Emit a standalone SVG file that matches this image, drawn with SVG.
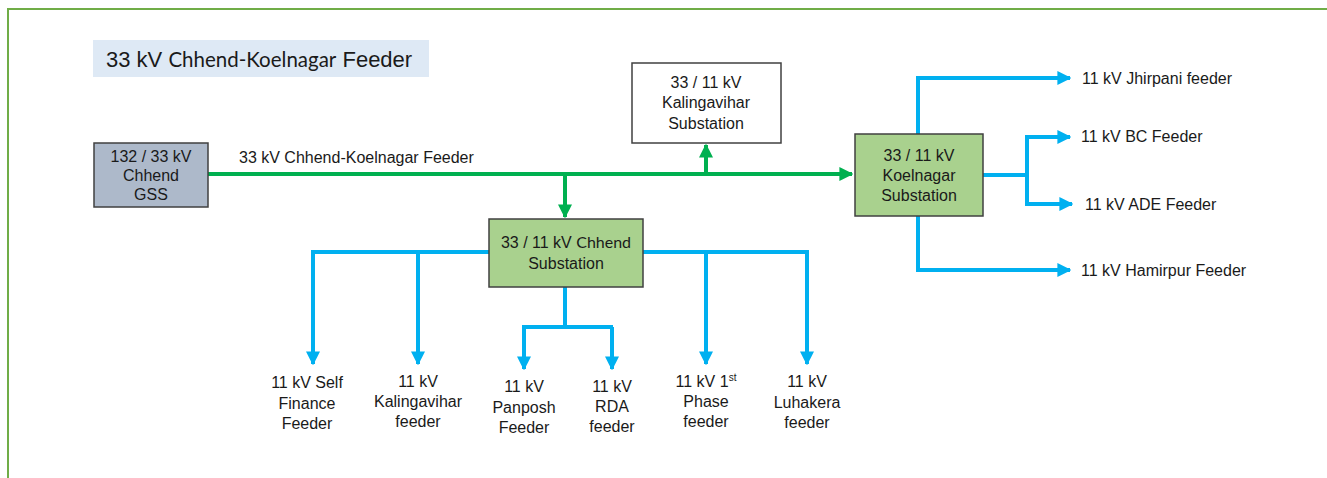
<svg xmlns="http://www.w3.org/2000/svg" width="1327" height="478" viewBox="0 0 1327 478">
<defs>
<style>
.t{font-family:"Liberation Sans",Arial,sans-serif;font-size:16px;fill:#1a1a1a}
.c{font-family:Lato,"Open Sans","Liberation Sans",sans-serif}
.m{text-anchor:middle}
.box{stroke:#404040;stroke-width:1.5}
.g{fill:none;stroke:#00b050;stroke-width:4}
.b{fill:none;stroke:#00b0f0;stroke-width:4}
</style>
<marker id="ag" viewBox="0 0 10 10" refX="9" refY="5" markerWidth="3.5" markerHeight="3.5" orient="auto" markerUnits="strokeWidth"><path d="M0,0 L10,5 L0,10 z" fill="#00b050"/></marker>
<marker id="ab" viewBox="0 0 10 10" refX="9" refY="5" markerWidth="3.5" markerHeight="3.5" orient="auto" markerUnits="strokeWidth"><path d="M0,0 L10,5 L0,10 z" fill="#00b0f0"/></marker>
</defs>
<rect width="1327" height="478" fill="#ffffff"/>
<path d="M8,478 V9 H1327" fill="none" stroke="#70ad47" stroke-width="2"/>

<g id="title">
<rect x="93" y="40" width="336" height="37" fill="#dee9f5"/>
<text class="t" x="106" y="67" style="font-size:22px">33 kV <tspan class="c" style="font-size:20.5px">Chhend-Koelnagar</tspan> Feeder</text>
</g>

<g id="connectors">
<line class="g" x1="208" y1="174" x2="852" y2="174" marker-end="url(#ag)"/>
<line class="g" x1="706" y1="174" x2="706" y2="145" marker-end="url(#ag)"/>
<line class="g" x1="565" y1="174" x2="565" y2="217" marker-end="url(#ag)"/>
<path class="b" d="M489,252 H313 V364" marker-end="url(#ab)"/>
<line class="b" x1="418" y1="252" x2="418" y2="364" marker-end="url(#ab)"/>
<path class="b" d="M643,252 H807 V364" marker-end="url(#ab)"/>
<line class="b" x1="706" y1="252" x2="706" y2="364" marker-end="url(#ab)"/>
<path class="b" d="M565,287 V327 M522,327 H613" />
<path class="b" d="M524,327 V369" marker-end="url(#ab)"/>
<path class="b" d="M612,327 V369" marker-end="url(#ab)"/>
<path class="b" d="M918,134 V78 H1070" marker-end="url(#ab)"/>
<path class="b" d="M983,175 H1027"/>
<path class="b" d="M1027,175 V137 H1070" marker-end="url(#ab)"/>
<path class="b" d="M1027,175 V204 H1072" marker-end="url(#ab)"/>
<path class="b" d="M918,216 V270 H1070" marker-end="url(#ab)"/>
</g>

<g id="gss">
<rect class="box" x="94" y="143" width="114" height="64" fill="#adb9ca"/>
<text class="t m"><tspan x="151" y="162">132 / 33 kV</tspan><tspan x="151" y="181">Chhend</tspan><tspan x="151" y="200">GSS</tspan></text>
</g>
<g id="feeder-label"><text class="t" x="239" y="163">33 kV Chhend-Koelnagar Feeder</text></g>

<g id="kalingavihar-ss">
<rect class="box" x="632" y="63" width="149" height="80" fill="#ffffff"/>
<text class="t m"><tspan x="706" y="88">33 / 11 kV</tspan><tspan x="706" y="108">Kalingavihar</tspan><tspan x="706" y="129">Substation</tspan></text>
</g>

<g id="chhend-ss">
<rect class="box" x="489" y="219" width="154" height="68" fill="#a9d18e"/>
<text class="t m"><tspan x="566" y="248">33 / 11 kV <tspan class="c">Chhend</tspan></tspan><tspan x="566" y="269">Substation</tspan></text>
</g>

<g id="koelnagar-ss">
<rect class="box" x="855" y="134" width="128" height="82" fill="#a9d18e"/>
<text class="t m"><tspan x="919" y="161">33 / 11 kV</tspan><tspan x="919" y="181">Koelnagar</tspan><tspan x="919" y="201">Substation</tspan></text>
</g>

<g id="jhirpani"><text class="t" x="1082" y="84">11 kV Jhirpani feeder</text></g>
<g id="bc"><text class="t" x="1081" y="142">11 kV BC Feeder</text></g>
<g id="ade"><text class="t" x="1085" y="210">11 kV ADE Feeder</text></g>
<g id="hamirpur"><text class="t" x="1081" y="276">11 kV Hamirpur Feeder</text></g>

<g id="self-finance"><text class="t m"><tspan x="307" y="388">11 kV Self</tspan><tspan x="307" y="409">Finance</tspan><tspan x="307" y="429">Feeder</tspan></text></g>
<g id="kalingavihar-feeder"><text class="t m"><tspan x="418" y="387">11 kV</tspan><tspan x="418" y="407">Kalingavihar</tspan><tspan x="418" y="427">feeder</tspan></text></g>
<g id="panposh"><text class="t m"><tspan x="524" y="392">11 kV</tspan><tspan x="524" y="413">Panposh</tspan><tspan x="524" y="433">Feeder</tspan></text></g>
<g id="rda"><text class="t m"><tspan x="612" y="392">11 kV</tspan><tspan x="612" y="412">RDA</tspan><tspan x="612" y="432">feeder</tspan></text></g>
<g id="first-phase"><text class="t m"><tspan x="706" y="387">11 kV 1<tspan style="font-size:10px" dy="-6">st</tspan></tspan><tspan x="706" y="407">Phase</tspan><tspan x="706" y="427">feeder</tspan></text></g>
<g id="luhakera"><text class="t m"><tspan x="807" y="387">11 kV</tspan><tspan x="807" y="408">Luhakera</tspan><tspan x="807" y="428">feeder</tspan></text></g>
</svg>
